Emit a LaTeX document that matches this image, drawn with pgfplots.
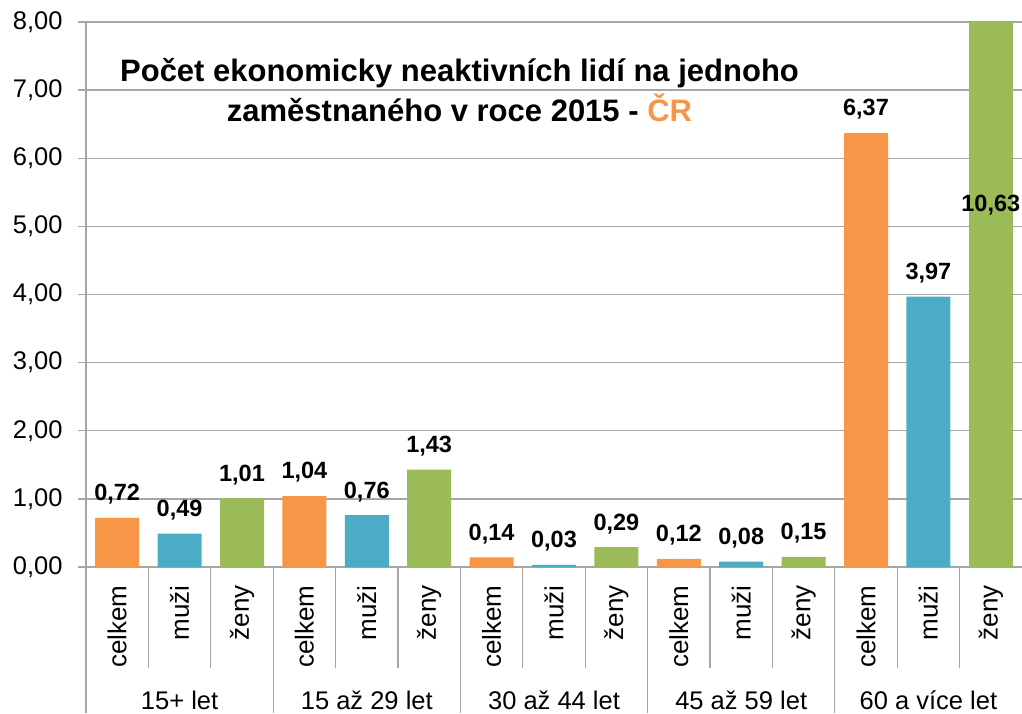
\documentclass[border=0pt]{standalone}
\usepackage{pgfplots}
\pgfplotsset{compat=1.18}
\usepackage{fontspec}
\setmainfont{Liberation Sans}
\definecolor{cOr}{HTML}{F79646}
\definecolor{cBl}{HTML}{4BACC6}
\definecolor{cGr}{HTML}{9BBB59}
\definecolor{cGrid}{HTML}{A6A6A6}
\begin{document}
\begin{tikzpicture}[x=1pt,y=1pt]
\path[use as bounding box] (0,0) rectangle (1022,713);
\begin{axis}[
  at={(86pt,146pt)}, anchor=south west,
  width=936pt, height=545pt, scale only axis,
  clip mode=individual,
  xmin=-0.5, xmax=14.5, ymin=0, ymax=8,
  ybar,
  ytick={0,1,...,8},
  ymajorgrids, grid style={cGrid, line width=1.3pt},
  axis x line*=bottom, axis y line*=left,
  axis line style={cGrid, line width=1.3pt, -},
  tick align=outside, major tick length=8pt,
  ytick style={cGrid, line width=1.3pt},
  xtick style={draw=none},
  xtick={0,1,...,14},
  xticklabels={celkem,muži,ženy,celkem,muži,ženy,celkem,muži,ženy,celkem,muži,ženy,celkem,muži,ženy},
  xticklabel style={rotate=90, anchor=east, font=\fontsize{26}{30}\selectfont},
  xticklabel shift=7pt,
  yticklabel style={font=\fontsize{25.5}{30}\selectfont},
  yticklabel shift=12pt,
  /pgf/number format/.cd, fixed, fixed zerofill, precision=2, use comma, assume math mode=true,
  /pgfplots/.cd,
  every node near coord/.append style={font=\bfseries\fontsize{23.5}{27}\selectfont, text=black, yshift=10pt,
    /pgf/number format/.cd, fixed, fixed zerofill, precision=2, use comma, assume math mode=true},
]
\addplot[fill=cOr, draw=none, bar width=44pt, bar shift=0pt, nodes near coords]
  coordinates {(0,0.72) (3,1.04) (6,0.14) (9,0.12) (12,6.37)};
\addplot[fill=cBl, draw=none, bar width=44pt, bar shift=0pt, nodes near coords]
  coordinates {(1,0.49) (4,0.76) (7,0.03) (10,0.08) (13,3.97)};
\addplot[fill=cGr, draw=none, bar width=44pt, bar shift=0pt, nodes near coords]
  coordinates {(2,1.01) (5,1.43) (8,0.29) (11,0.15)};
\addplot[fill=cGr, draw=none, bar width=44pt, bar shift=0pt]
  coordinates {(14,10.63)};
\node[font=\bfseries\fontsize{23.5}{27}\selectfont, text=black] at (axis cs:14,5.31) {10,63};
\end{axis}
\foreach \i in {1,2,4,5,7,8,10,11,13,14}
  \draw[cGrid, line width=1.3pt] ({86+62.4*\i},146) -- ({86+62.4*\i},45);
\foreach \i in {0,3,6,9,12}
  \draw[cGrid, line width=1.3pt] ({86+62.4*\i},146) -- ({86+62.4*\i},0);
\foreach \g/\t in {0/15+ let,1/15 až 29 let,2/30 až 44 let,3/45 až 59 let,4/60 a více let}
  \node[anchor=base, font=\fontsize{25.5}{30}\selectfont, inner sep=0pt] at ({86+62.4*(3*\g+1.5)},4) {\t};
\node[font=\bfseries\fontsize{31}{40}\selectfont, anchor=base, inner sep=0pt] at (459.5,631)
  {Počet ekonomicky neaktivních lidí na jednoho};
\node[font=\bfseries\fontsize{31}{40}\selectfont, anchor=base, inner sep=0pt] at (459.5,591)
  {zaměstnaného v roce 2015 - \textcolor{cOr}{ČR}};
\end{tikzpicture}
\end{document}
